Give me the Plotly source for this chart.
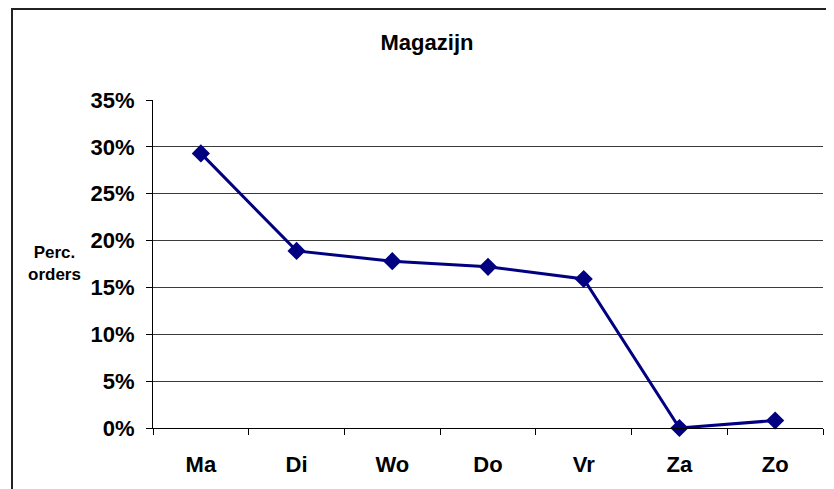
import plotly.graph_objects as go

days = ["Ma", "Di", "Wo", "Do", "Vr", "Za", "Zo"]
perc_orders = [0.293, 0.189, 0.178, 0.172, 0.159, 0.0, 0.008]
y_ticks = [0, 0.05, 0.10, 0.15, 0.20, 0.25, 0.30, 0.35]
y_tick_labels = ["0%", "5%", "10%", "15%", "20%", "25%", "30%", "35%"]

fig = go.Figure()

fig.add_trace(go.Scatter(
    x=days,
    y=perc_orders,
    mode="lines+markers",
    line=dict(color="#000080", width=3),
    marker=dict(symbol="diamond", size=14, color="#000080"),
    cliponaxis=False,
    showlegend=False,
))

# the page puts the figure 8px in from the top-left corner,
# so the figure is made 8px smaller to fit the window exactly
fig.update_layout(
    width=826,
    height=481,
    margin=dict(l=145, r=11, t=92, b=61),
    plot_bgcolor="white",
    paper_bgcolor="white",
    font=dict(family="Arial, Liberation Sans", size=21, color="black"),
    title=dict(
        text="<b>Magazijn</b>",
        x=419 / 826,
        xanchor="center",
        y=1 - 34 / 481,
        yanchor="middle",
        font=dict(size=22),
    ),
)

fig.update_xaxes(
    range=[-0.5, 6.5],
    showline=True,
    linecolor="black",
    linewidth=1,
    ticks="outside",
    tickson="boundaries",
    ticklen=6,
    tickcolor="black",
    showgrid=False,
    tickfont=dict(size=22, family="Arial, Liberation Sans"),
    ticklabelstandoff=17,
    tickprefix="<b>",
    ticksuffix="</b>",
)

fig.update_yaxes(
    range=[0, 0.35],
    tickvals=y_ticks,
    ticktext=["<b>%s</b>" % t for t in y_tick_labels],
    showline=True,
    linecolor="black",
    linewidth=1,
    ticks="outside",
    ticklen=6,
    tickcolor="black",
    showgrid=True,
    gridcolor="#3a3a3a",
    gridwidth=1,
    zeroline=False,
    tickfont=dict(size=22, family="Arial, Liberation Sans"),
    ticklabelstandoff=7,
)

fig.add_annotation(
    text="<b>Perc.<br>orders</b>",
    xref="paper", yref="paper",
    x=(55 - 153) / 670, y=(428 - 263) / 328,
    xanchor="center", yanchor="middle",
    showarrow=False,
    align="center",
    font=dict(size=17, family="Arial, Liberation Sans", color="black"),
)

# outer chart border (cropped on the right and bottom)
fig.add_shape(
    type="rect",
    xref="paper", yref="paper",
    x0=(12 - 153) / 670, x1=1.2,
    y0=-0.5, y1=(428 - 9) / 328,
    line=dict(color="#222222", width=2),
    layer="below",
)

fig.write_html("out.html")
